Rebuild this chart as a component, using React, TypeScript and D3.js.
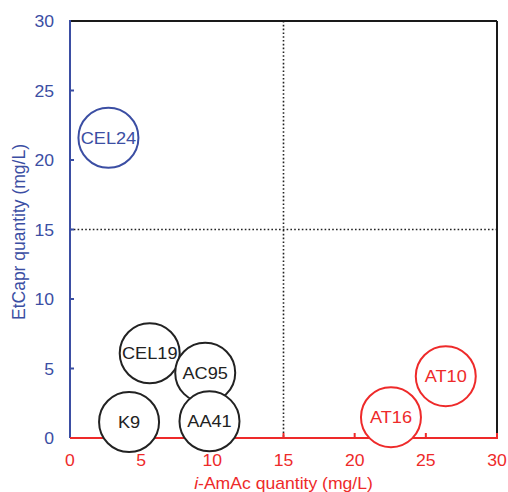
import React from "react";
import * as d3 from "d3";

// Yeast strains plotted by their ester production
const strains = ["CEL24", "CEL19", "K9", "AC95", "AA41", "AT10", "AT16"];
const amAc = [2.7, 5.6, 4.15, 9.5, 9.8, 26.4, 22.55]; // i-AmAc quantity (mg/L)
const etCapr = [21.6, 6.1, 1.15, 4.7, 1.2, 4.45, 1.5]; // EtCapr quantity (mg/L)
const groups = ["high-EtCapr", "low", "low", "low", "low", "high-AmAc", "high-AmAc"];

const xTicks = [0, 5, 10, 15, 20, 25, 30];
const yTicks = [0, 5, 10, 15, 20, 25, 30];

const BLUE = "#3b4ea3";
const RED = "#ee2a2a";
const DARK = "#222222";

const groupColor: Record<string, string> = {
  "high-EtCapr": BLUE,
  low: DARK,
  "high-AmAc": RED,
};

const W = 508;
const H = 492;
const FONT = "Arial, 'Liberation Sans', Helvetica, sans-serif";

export default function App() {
  const x = d3.scaleLinear().domain([0, 30]).range([70, 497]);
  const y = d3.scaleLinear().domain([0, 30]).range([438, 21]);
  const x0 = x(0), x1 = x(30), y0 = y(0), y1 = y(30);
  const r = 30;

  const points = strains.map((s, i) => ({
    name: s,
    cx: x(amAc[i]),
    cy: y(etCapr[i]),
    color: groupColor[groups[i]],
  }));

  return (
    <svg
      width={W}
      height={H}
      style={{ position: "absolute", left: 0, top: 0, background: "#fff" }}
      fontFamily={FONT}
    >
      <rect width={W} height={H} fill="#fff" />

      {/* reference lines at 15 mg/L */}
      <line x1={x(15)} x2={x(15)} y1={y1} y2={y0} stroke="#222" strokeWidth={1.6} strokeDasharray="1.6,2.2" />
      <line x1={x0} x2={x1} y1={y(15)} y2={y(15)} stroke="#222" strokeWidth={1.6} strokeDasharray="1.6,2.2" />

      {/* frame */}
      <line x1={x0} x2={x1} y1={y1} y2={y1} stroke="#1a1a1a" strokeWidth={2} />
      <line x1={x1} x2={x1} y1={y1} y2={y0} stroke="#1a1a1a" strokeWidth={2} />

      {/* y axis */}
      <line x1={x0} x2={x0} y1={y1 - 1} y2={y0} stroke={BLUE} strokeWidth={2} />
      {yTicks.map((t) => (
        <g key={"yt" + t}>
          {t > 0 && t < 30 && (
            <line x1={x0} x2={x0 + 4} y1={y(t)} y2={y(t)} stroke={BLUE} strokeWidth={2} />
          )}
          <text
            transform={`translate(54,${y(t) + 6}) scale(1.1,1)`}
            textAnchor="end"
            fontSize={16}
            fill={BLUE}
          >
            {t}
          </text>
        </g>
      ))}
      <text
        transform={`translate(25,232) rotate(-90)`}
        textAnchor="middle"
        fontSize={17.5}
        fill={BLUE}
      >
        EtCapr quantity (mg/L)
      </text>

      {/* x axis */}
      <line x1={x0} x2={x1 + 1} y1={y0} y2={y0} stroke={RED} strokeWidth={2} />
      {xTicks.map((t) => (
        <g key={"xt" + t}>
          {t > 0 && (
            <line x1={x(t)} x2={x(t)} y1={y0} y2={y0 - 5} stroke={RED} strokeWidth={2} />
          )}
          <text
            transform={`translate(${x(t)},466) scale(1.1,1)`}
            textAnchor="middle"
            fontSize={16}
            fill={RED}
          >
            {t}
          </text>
        </g>
      ))}
      <text
        transform={`translate(${(x0 + x1) / 2},489) scale(1.1,1)`}
        textAnchor="middle"
        fontSize={16}
        fill={RED}
      >
        <tspan fontStyle="italic">i</tspan>-AmAc quantity (mg/L)
      </text>

      {/* strain bubbles */}
      {points.map((p) => (
        <g key={p.name}>
          <circle cx={p.cx} cy={p.cy} r={r} fill="#fff" stroke={p.color} strokeWidth={2} />
          <text
            transform={`translate(${p.cx},${p.cy}) scale(1.07,1)`}
            textAnchor="middle"
            dy="0.36em"
            fontSize={17}
            fill={p.color}
          >
            {p.name}
          </text>
        </g>
      ))}
    </svg>
  );
}
